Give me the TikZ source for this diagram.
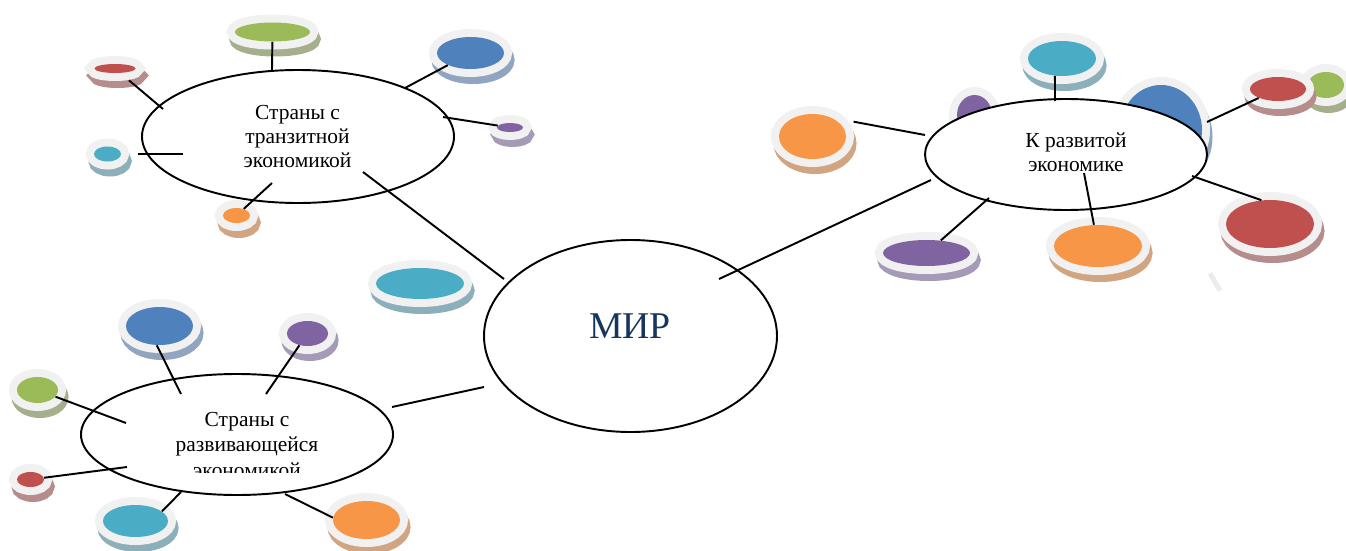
\documentclass[tikz,border=0pt]{standalone}
\usepackage{fontspec}
\setmainfont{Liberation Serif}
\usepackage{tikz}
\usetikzlibrary{shapes.geometric}
\newcommand{\pix}{0.02cm}
\newcommand{\rimwidth}{0.32cm}
\definecolor{rimgray}{RGB}{241,241,241}
\definecolor{speckgray}{RGB}{236,236,236}
\definecolor{mirblue}{RGB}{23,54,93}
\definecolor{bGreen}{HTML}{9BBB59}
\definecolor{bBlue}{HTML}{4F81BD}
\definecolor{bRed}{HTML}{C0504D}
\definecolor{bPurple}{HTML}{8064A2}
\definecolor{bAqua}{HTML}{4BACC6}
\definecolor{bOrange}{HTML}{F79646}
\definecolor{sGreen}{RGB}{165,175,140}
\definecolor{sBlue}{RGB}{145,165,192}
\definecolor{sRed}{RGB}{182,140,140}
\definecolor{sPurple}{RGB}{165,155,182}
\definecolor{sAqua}{RGB}{140,175,185}
\definecolor{sOrange}{RGB}{210,165,130}
\tikzset{
  bubble/.style 2 args={shape=ellipse,inner sep=0,fill=#1,
    preaction={fill=#2,draw=#2,line width=\rimwidth,transform canvas={shift={(0.05cm,-0.14cm)}}},
    preaction={draw=rimgray,line width=\rimwidth}},
  gbub/.style={bubble={bGreen}{sGreen}},
  bbub/.style={bubble={bBlue}{sBlue}},
  rbub/.style={bubble={bRed}{sRed}},
  pbub/.style={bubble={bPurple}{sPurple}},
  abub/.style={bubble={bAqua}{sAqua}},
  obub/.style={bubble={bOrange}{sOrange}},
  sz/.style 2 args={minimum width=#1*\pix,minimum height=#2*\pix},
  hub/.style={draw,fill=white,shape=ellipse,inner sep=0,line width=1.1pt},
  lbl/.style={align=center,inner sep=0,font=\fontsize{12.2}{13.7}\selectfont},
  link/.style={draw,line width=1.1pt},
}

\begin{document}
\begin{tikzpicture}[x=0.02cm,y=-0.02cm]
  \useasboundingbox (0,0) rectangle (1346,551);
  % bubbles hidden behind the right hub
  \node[pbub,sz={35}{40}] (rPurple) at (974.5,115) {};
  \node[bbub,sz={82}{90}] (rBlue) at (1161,130) {};
  % hubs
  \node[hub,sz={293}{192}] (mir) at (630.5,336) {};
  \node[hub,sz={312}{133}] (trans) at (298,136.5) {};
  \node[hub,sz={282}{111}] (devd) at (1066,154.5) {};
  \node[hub,sz={312}{121}] (devg) at (237,434.5) {};
  \node[font=\fontsize{21.5}{26}\selectfont,text=mirblue,anchor=base,inner sep=0] (mirTxt) at (630,338.3) {МИР};
  \node[lbl] (transTxt) at (297.5,136.7) {Страны с\\транзитной\\экономикой};
  \node[lbl] (devdTxt) at (1076,152.7) {К развитой\\экономике};
  \begin{scope}
    \clip (0,0) rectangle (1346,472);
    \node[lbl,font=\fontsize{12.2}{14.5}\selectfont] (devgTxt) at (247,444.8) {Страны с\\развивающейся\\экономикой};
  \end{scope}
  % transition cluster
  \node[gbub,sz={75}{19}] (tGreen) at (272.5,32) {};
  \node[rbub,sz={41}{9}] (tRed) at (115,68.5) {};
  \node[bbub,sz={67}{32}] (tBlue) at (470.5,53) {};
  \node[pbub,sz={26}{9}] (tPurple) at (510,127.5) {};
  \node[abub,sz={27}{15}] (tAqua) at (107.5,154) {};
  \node[obub,sz={27}{15}] (tOrange) at (236.5,215.5) {};
  \node[abub,sz={88}{31}] (mAqua) at (420,283.5) {};
  % developed cluster
  \node[gbub,sz={36}{26}] (rGreen) at (1326,85) {};
  \node[abub,sz={68}{35}] (rAqua) at (1062,58.5) {};
  \node[rbub,sz={56}{24}] (rRed) at (1278,89) {};
  \node[obub,sz={67}{45}] (rOrangeL) at (812.5,136.5) {};
  \node[pbub,sz={87}{26}] (rPurpleB) at (926.5,253) {};
  \node[obub,sz={88}{42}] (rOrangeB) at (1098,246) {};
  \node[rbub,sz={88}{48}] (rRedB) at (1270,224) {};
  % developing cluster
  \node[bbub,sz={67}{38}] (dBlue) at (159.5,326) {};
  \node[pbub,sz={41}{25}] (dPurple) at (307.5,333.5) {};
  \node[gbub,sz={41}{26}] (dGreen) at (37.5,390) {};
  \node[rbub,sz={27}{15}] (dRed) at (30.5,479.5) {};
  \node[abub,sz={65}{32}] (dAqua) at (135.5,521) {};
  \node[obub,sz={67}{38}] (dOrange) at (366.5,520) {};
  \fill[speckgray,rotate around={30:(1215,282)}] (1212.5,272) rectangle (1217.5,292);
  % link ends
  \coordinate (tlG) at (272,70);
  \coordinate (tlR) at (163,109);
  \coordinate (tlB) at (405,88);
  \coordinate (tlP) at (443,117);
  \coordinate (tlA) at (183,154);
  \coordinate (tlO) at (272,183);
  \coordinate (rA) at (1055,101);
  \coordinate (rR) at (1207,122);
  \coordinate (rOL) at (925,135);
  \coordinate (rPB) at (989,198);
  \coordinate (rOB) at (1084,173);
  \coordinate (rRB) at (1192,176);
  \coordinate (dB) at (181,394);
  \coordinate (dP) at (266,394);
  \coordinate (dG) at (126,423);
  \coordinate (dR) at (127,467);
  \coordinate (dA) at (181,492);
  \coordinate (dO) at (285,494);
  \coordinate (transOut) at (363,172);
  \coordinate (mirTL) at (504,279);
  \coordinate (mirTR) at (719,279);
  \coordinate (devdOut) at (931,180);
  \coordinate (mirBL) at (484,387);
  \coordinate (devgOut) at (392,407);
  % links
  \path[link] (transOut) -- (mirTL);
  \path[link] (mirTR) -- (devdOut);
  \path[link] (mirBL) -- (devgOut);
  \path[link] (tGreen) -- (tlG);
  \path[link,shorten <=0.22cm] (tRed) -- (tlR);
  \path[link] (tBlue) -- (tlB);
  \path[link] (tPurple) -- (tlP);
  \path[link,shorten <=0.34cm] (tAqua) -- (tlA);
  \path[link] (tOrange) -- (tlO);
  \path[link] (rAqua.248) -- (rA);
  \path[link] (rRed) -- (rR);
  \path[link,shorten <=0.45cm] (rOrangeL.45) -- (rOL);
  \path[link] (rPurpleB) -- (rPB);
  \path[link] (rOrangeB) -- (rOB);
  \path[link] (rRedB.110) -- (rRB);
  \path[link] (dBlue.262) -- (dB);
  \path[link] (dPurple) -- (dP);
  \path[link] (dGreen) -- (dG);
  \path[link] (dRed) -- (dR);
  \path[link] (dAqua.20) -- (dA);
  \path[link] (dOrange.176) -- (dO);
\end{tikzpicture}
\end{document}
